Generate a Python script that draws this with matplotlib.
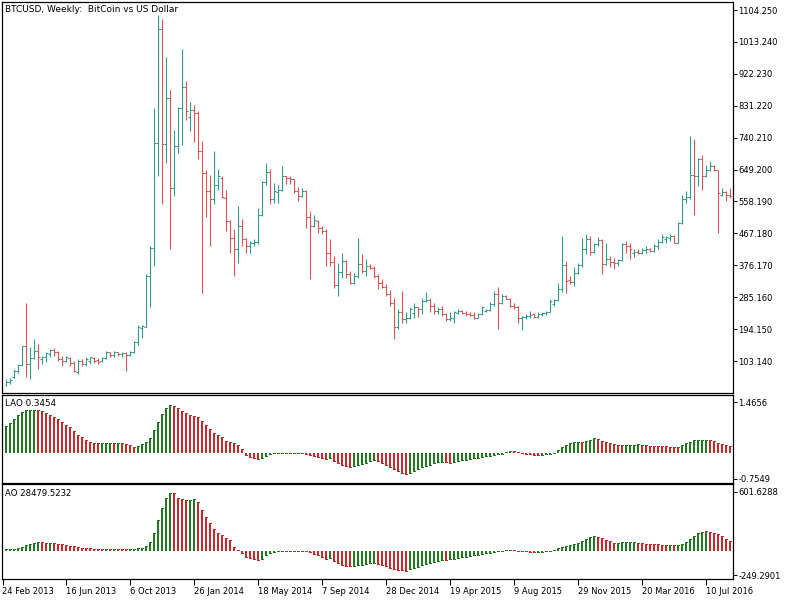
import matplotlib
matplotlib.use("Agg")
import matplotlib.pyplot as plt
import numpy as np

plt.rcParams['font.family'] = ['DejaVu Sans']

# ---------------- data (weekly bars, bar 1 = week of 3 Mar 2013) ----------------
opens = [35,42,58,76,92,145,95,112,133,110,114,123,135,130,109,104,111,97,73,104,
         95,104,111,107,104,111,128,120,128,123,126,120,130,156,196,200,346,426,725,1049,
         723,853,597,715,824,884,800,818,810,701,640,587,566,605,625,569,502,455,422,488,
         452,431,440,442,521,613,641,564,585,592,630,624,621,588,575,588,515,488,502,483,
         474,410,385,319,357,388,351,325,346,379,361,374,369,346,325,313,294,270,199,243,
         223,227,240,256,251,275,278,261,246,251,237,223,227,240,246,240,237,234,227,237,
         246,249,265,294,268,289,281,261,256,225,230,232,236,230,237,240,243,265,276,308,
         376,335,329,353,376,424,450,414,436,448,381,393,386,384,391,436,431,410,414,410,
         420,424,417,431,443,452,455,460,441,496,564,571,635,632,678,632,649,659,647,578,
         585,578]
highs = [52,54,80,94,147,270,142,167,151,118,128,137,139,133,118,118,114,104,109,109,
         114,116,114,111,116,133,130,133,130,130,128,133,161,205,207,350,431,825,1090,1080,
         971,877,763,829,992,902,843,834,815,730,649,635,701,650,630,592,505,479,545,507,
         455,445,450,540,616,668,651,611,606,659,632,630,623,600,597,592,531,521,505,488,
         479,450,403,384,410,390,360,353,455,407,393,379,374,351,336,322,306,284,251,303,
         242,256,268,258,284,300,284,268,256,260,240,242,246,251,248,246,243,242,239,259,
         251,272,303,313,294,292,284,270,261,232,237,246,239,242,243,246,280,280,325,461,
         388,346,370,384,455,464,461,441,458,450,440,403,398,395,441,445,441,422,422,426,
         431,426,436,450,464,461,464,462,499,578,588,746,736,682,692,661,673,662,649,597,
         588,597]
lows = [33,38,56,70,88,57,52,109,80,95,99,114,118,104,90,99,90,71,66,90,
        90,95,97,95,99,109,114,116,118,116,76,118,126,150,170,199,256,374,630,550,
        668,422,573,696,720,791,758,727,678,298,515,431,550,590,569,474,412,346,384,431,
        412,412,431,436,516,605,550,554,554,588,607,607,583,559,572,483,336,485,469,464,
        374,374,310,289,341,341,322,322,341,355,346,365,341,308,310,289,261,166,194,213,
        211,223,227,230,237,272,243,237,237,232,218,218,213,237,237,232,232,223,225,235,
        242,246,261,194,265,280,256,251,211,192,223,227,227,227,232,234,242,259,275,300,
        298,322,316,351,370,407,405,410,431,351,377,370,367,374,389,412,395,401,407,407,
        412,414,415,422,439,441,445,439,439,493,554,564,521,602,590,628,645,645,469,575,
        559,569]
closes = [44,50,76,92,145,95,112,133,114,116,126,135,128,109,104,114,97,76,104,95,
          109,114,104,99,111,128,120,128,123,126,120,130,156,199,203,346,426,725,1049,723,
          853,597,715,824,884,815,818,810,701,640,587,566,606,630,570,502,455,422,488,452,
          431,440,442,521,613,641,564,587,592,630,624,621,588,573,588,515,488,505,483,474,
          410,385,319,357,388,351,325,346,379,361,374,369,346,325,313,294,270,199,243,223,
          227,251,256,251,275,278,261,246,251,237,223,227,242,246,240,237,234,227,237,256,
          249,265,294,268,289,281,261,256,227,230,232,234,230,237,240,243,275,276,308,376,
          332,329,353,376,424,450,414,436,448,381,393,386,384,391,436,431,422,414,410,420,
          424,417,431,443,458,458,460,441,496,564,571,635,632,678,632,649,659,647,583,585,
          578,573]

lao = [0.772,0.849,0.965,1.081,1.177,1.226,1.235,1.240,1.235,1.206,
       1.158,1.100,1.042,0.965,0.888,0.811,0.733,0.618,0.521,0.444,
       0.367,0.318,0.290,0.270,0.280,0.285,0.290,0.270,0.280,0.275,
       0.251,0.212,0.174,0.193,0.241,0.309,0.434,0.656,0.897,1.119,
       1.283,1.380,1.351,1.283,1.216,1.139,1.090,1.062,1.023,0.926,
       0.801,0.676,0.579,0.511,0.444,0.347,0.318,0.290,0.222,0.097,
       -0.068,-0.116,-0.164,-0.183,-0.154,-0.097,-0.029,-0.014,-0.010,-0.012,
       -0.011,-0.010,-0.012,-0.014,-0.017,-0.029,-0.058,-0.087,-0.116,-0.154,
       -0.193,-0.164,-0.251,-0.309,-0.367,-0.396,-0.415,-0.396,-0.367,-0.328,
       -0.290,-0.251,-0.222,-0.251,-0.309,-0.367,-0.415,-0.483,-0.540,-0.598,
       -0.618,-0.579,-0.540,-0.483,-0.425,-0.386,-0.347,-0.309,-0.280,-0.261,
       -0.280,-0.299,-0.270,-0.241,-0.222,-0.203,-0.183,-0.164,-0.145,-0.125,
       -0.106,-0.087,-0.068,-0.048,-0.029,0.019,0.048,0.039,0.019,-0.010,
       -0.029,-0.048,-0.063,-0.068,-0.058,-0.043,-0.029,-0.010,0.077,0.174,
       0.232,0.270,0.299,0.318,0.309,0.338,0.376,0.415,0.386,0.347,
       0.309,0.280,0.251,0.232,0.222,0.227,0.232,0.236,0.241,0.222,
       0.212,0.203,0.198,0.193,0.188,0.183,0.179,0.176,0.174,0.212,
       0.270,0.318,0.357,0.367,0.372,0.376,0.357,0.328,0.290,0.251,
       0.222,0.193]

ao = [14,15,17,24,37,54,68,78,85,84,
      81,83,75,68,65,58,51,44,37,31,
      27,24,22,20,19,20,19,19.5,17.7,17,
      15,16,20,24,31,48,92,177,313,432,
      535,589,586,538,528,518,521,524,497,415,
      347,279,225,177,160,133,109,41,3,-27,
      -61,-78,-89,-92,-82,-48,-24,-10,-7,-3.4,
      -5,-3.4,-3.5,-3.2,-4,-5,-17,-31,-48,-65,
      -82,-75,-102,-126,-143,-153,-160,-157,-150,-143,
      -136,-129,-126,-133,-146,-160,-174,-185,-194,-200,
      -208,-191,-177,-163,-150,-136,-123,-112,-102,-95,
      -99,-89,-82,-75,-68,-61,-54,-48,-41,-34,
      -27,-20,-14,-7,-2,3,10,7,2,-3.4,
      -7,-10,-12,-10,-8.5,-7,-3,7,24,37,
      48,58,68,82,95,116,136,150,143,129,
      112,95,82,83,84,85,86,87,80,77,
      73,70,66,65,63,61,63,60.5,61,72,
      89,116,150,177,194,201,194,184,167,146,
      123,99]

date_ticks = ["24 Feb 2013", "16 Jun 2013", "6 Oct 2013", "26 Jan 2014", "18 May 2014",
              "7 Sep 2014", "28 Dec 2014", "19 Apr 2015", "9 Aug 2015", "29 Nov 2015",
              "20 Mar 2016", "10 Jul 2016"]
price_ticks = [103.14, 194.15, 285.16, 376.17, 467.18, 558.19, 649.20, 740.21,
               831.22, 922.23, 1013.24, 1104.25]
lao_ticks = [1.4656, -0.7549]
ao_ticks = [601.6288, -249.2901]

title = "BTCUSD, Weekly:  BitCoin vs US Dollar"
lao_label = "LAO 0.3454"
ao_label = "AO 28479.5232"

# ---------------- drawing ----------------
W, H = 800, 600
fig = plt.figure(figsize=(8, 6), dpi=100, facecolor='white')

def px_axes(x0, y0, x1, y1):
    return fig.add_axes([x0 / W, 1 - y1 / H, (x1 - x0) / W, (y1 - y0) / H])

UP, DN = '#26a08e', '#e5504c'
HG, HR = '#1f7a1f', '#c9282b'
n = len(closes)
idx = np.arange(1, n + 1)
XL = (-0.125, -0.125 + 731 / 4)
TXT = 6.0

ax = px_axes(2, 2, 733, 393)
ax2 = px_axes(2, 395, 733, 483)
ax3 = px_axes(2, 484, 733, 579)

o = np.array(opens, float); h = np.array(highs, float)
l = np.array(lows, float); c = np.array(closes, float)
cols = [UP if cc >= oo else DN for oo, cc in zip(o, c)]
lw = 0.75
ax.vlines(idx, l, h, colors=cols, lw=lw)
ax.hlines(o, idx - 0.5, idx, colors=cols, lw=lw)
ax.hlines(c, idx, idx + 0.5, colors=cols, lw=lw)
ax.set_ylim(11.94, 1127.07)
ax.set_yticks(price_ticks)
ax.set_yticklabels([f"{v:.3f}" for v in price_ticks])

def hist_colors(vals):
    out = []
    for k, v in enumerate(vals):
        out.append(HG if k == 0 or v > vals[k - 1] else HR)
    return out

def draw_hist(a, vals):
    hc = hist_colors(vals)
    a.bar(idx, vals, width=0.5, color=hc, linewidth=0, antialiased=False)
    # 1px cap so that near-zero values remain visible as small dashes
    a.hlines(vals, idx - 0.25, idx + 0.25, colors=hc, lw=0.72, antialiased=False)

draw_hist(ax2, lao)
ax2.set_ylim(-0.877, 1.670)
ax2.set_yticks(lao_ticks)
ax2.set_yticklabels([f"{v:.4f}" for v in lao_ticks])

draw_hist(ax3, ao)
ax3.set_ylim(-289.1, 681.3)
ax3.set_yticks(ao_ticks)
ax3.set_yticklabels([f"{v:.4f}" for v in ao_ticks])

for a in (ax, ax2, ax3):
    a.set_xlim(*XL)
    a.set_facecolor('white')
    for s in a.spines.values():
        s.set_color('black'); s.set_linewidth(0.9)
    a.yaxis.tick_right()
    a.tick_params(axis='y', direction='out', length=3, width=0.7, pad=1,
                  labelsize=TXT, colors='black')
    a.tick_params(axis='x', bottom=False, labelbottom=False)

ax3.set_xticks(np.arange(0, 16 * len(date_ticks), 16))
ax3.set_xticklabels(date_ticks)
ax3.tick_params(axis='x', bottom=True, labelbottom=True, direction='out',
                length=4, width=0.7, pad=1.5, labelsize=TXT)
for t in ax3.get_xticklabels():
    t.set_horizontalalignment('left')

fig.text(5 / W, 1 - 10 / H, title, fontsize=6.5, va='center', ha='left')
fig.text(5 / W, 1 - 403 / H, lao_label, fontsize=6.3, va='center', ha='left')
fig.text(5 / W, 1 - 494 / H, ao_label, fontsize=6.1, va='center', ha='left')

fig.savefig("out.png", dpi=100, facecolor='white')
